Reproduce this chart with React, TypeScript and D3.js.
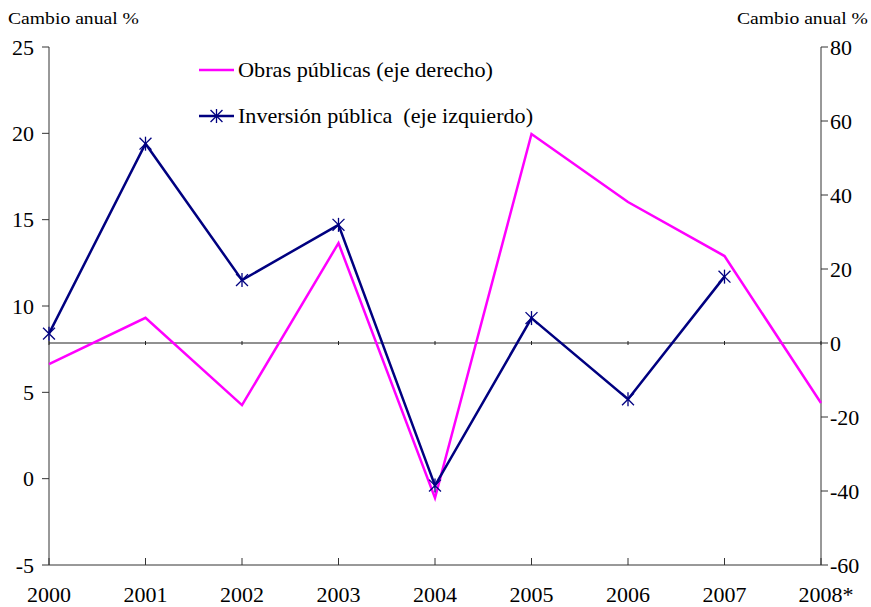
import React from "react";
import * as d3 from "d3";

const years = ["2000", "2001", "2002", "2003", "2004", "2005", "2006", "2007", "2008*"];
const inversion: (number | null)[] = [8.4, 19.4, 11.5, 14.7, -0.4, 9.3, 4.6, 11.7, null];
const obras: number[] = [-5.7, 6.8, -16.8, 27, -41.9, 56.5, 38.1, 23.5, -16.2];
const leftTicks = [-5, 0, 5, 10, 15, 20, 25];
const rightTicks = [-60, -40, -20, 0, 20, 40, 60, 80];
const legendLabels = ["Obras públicas (eje derecho)", "Inversión pública  (eje izquierdo)"];
const axisTitle = "Cambio anual %";

const W = 871, H = 607;
const L = 49, R = 821, T = 47, B = 565;
const FONT = "Liberation Serif, Times New Roman, Times, serif";
const PINK = "#FF00FF";
const NAVY = "#000080";
const ts = { fontFamily: FONT, whiteSpace: "pre" as const };

function Star({ x, y, s = 7 }: { x: number; y: number; s?: number }) {
  const d = s * 0.85;
  return (
    <g stroke={NAVY} strokeWidth={1.3}>
      <line x1={x} y1={y - s} x2={x} y2={y + s} />
      <line x1={x - d} y1={y - d} x2={x + d} y2={y + d} />
      <line x1={x - d} y1={y + d} x2={x + d} y2={y - d} />
    </g>
  );
}

export default function App() {
  const x = d3.scalePoint<string>().domain(years).range([L, R]);
  const yL = d3.scaleLinear().domain([-5, 25]).range([B, T]);
  const yR = d3.scaleLinear().domain([-60, 80]).range([B, T]);

  const invPts = years
    .map((yr, i) => ({ yr, v: inversion[i] }))
    .filter((d) => d.v !== null) as { yr: string; v: number }[];
  const lineInv = d3
    .line<{ yr: string; v: number }>()
    .x((d) => x(d.yr)!)
    .y((d) => yL(d.v));
  const lineObras = d3
    .line<number>()
    .x((_, i) => x(years[i])!)
    .y((d) => yR(d));

  return (
    <svg
      width={W}
      height={H}
      style={{ position: "absolute", left: 0, top: 0, background: "#fff", fontFamily: FONT }}
    >
      <rect x={0} y={0} width={W} height={H} fill="#fff" />
      {/* axis titles */}
      <text x={8} y={24} fontSize={17} fill="#000" style={ts} textLength={131} lengthAdjust="spacingAndGlyphs">{axisTitle}</text>
      <text x={737} y={24} fontSize={17} fill="#000" style={ts} textLength={131} lengthAdjust="spacingAndGlyphs">{axisTitle}</text>

      {/* left axis */}
      <line x1={L} y1={T} x2={L} y2={B} stroke="#333" strokeWidth={1} />
      {leftTicks.map((t) => (
        <g key={"l" + t}>
          <line x1={L - 7} x2={L} y1={yL(t)} y2={yL(t)} stroke="#333" />
          <text x={L - 15} y={yL(t) + 7.5} fontSize={22} textAnchor="end" fill="#000" style={ts}>{t}</text>
        </g>
      ))}

      {/* right axis */}
      <line x1={R} y1={T} x2={R} y2={B} stroke="#333" strokeWidth={1} />
      {rightTicks.map((t) => (
        <g key={"r" + t}>
          <line x1={R} x2={R + 7} y1={yR(t)} y2={yR(t)} stroke="#333" />
          <text x={R + 9} y={yR(t) + 7.5} fontSize={22} textAnchor="start" fill="#000" style={ts}>{t}</text>
        </g>
      ))}

      {/* bottom axis */}
      <line x1={L} y1={B} x2={R} y2={B} stroke="#333" strokeWidth={1} />
      {years.map((yr) => (
        <g key={"b" + yr}>
          <line x1={x(yr)!} x2={x(yr)!} y1={B - 7} y2={B} stroke="#333" />
          <text x={x(yr)! + (yr.endsWith("*") ? 5 : 0)} y={602} fontSize={22} textAnchor="middle" fill="#000" style={ts}>{yr}</text>
        </g>
      ))}

      {/* zero line (right axis) */}
      <line x1={L} y1={yR(0)} x2={R} y2={yR(0)} stroke="#222" strokeWidth={1} />
      {years.map((yr) => (
        <line key={"z" + yr} x1={x(yr)!} x2={x(yr)!} y1={yR(0) - 2} y2={yR(0) + 2} stroke="#222" />
      ))}

      {/* series */}
      <path d={lineObras(obras) || ""} fill="none" stroke={PINK} strokeWidth={2.5} />
      <path d={lineInv(invPts) || ""} fill="none" stroke={NAVY} strokeWidth={2.5} />
      {invPts.map((d) => (
        <Star key={"s" + d.yr} x={x(d.yr)!} y={yL(d.v)} />
      ))}

      {/* legend */}
      <line x1={199} x2={234} y1={70} y2={70} stroke={PINK} strokeWidth={2.5} />
      <text x={238} y={77} fontSize={21} fill="#000" style={ts} textLength={255} lengthAdjust="spacingAndGlyphs">{legendLabels[0]}</text>
      <line x1={199} x2={234} y1={116} y2={116} stroke={NAVY} strokeWidth={2.5} />
      <Star x={216.5} y={116} />
      <text x={238} y={123} fontSize={21} fill="#000" style={ts} textLength={295} lengthAdjust="spacingAndGlyphs">{legendLabels[1]}</text>
    </svg>
  );
}
